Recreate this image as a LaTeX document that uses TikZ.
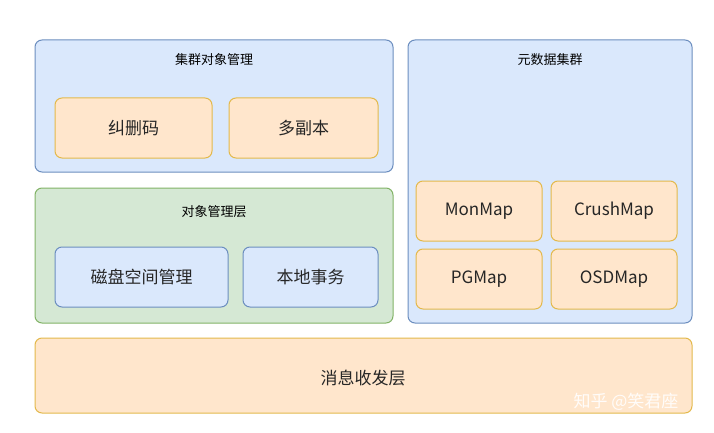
\documentclass[tikz,border=0pt]{standalone}
\usepackage{fontspec}
\setmainfont{Noto Sans CJK SC}
\definecolor{bfill}{HTML}{DAE8FC}\definecolor{bline}{HTML}{6C8EBF}
\definecolor{ofill}{HTML}{FFE6CC}\definecolor{oline}{HTML}{D79B00}
\definecolor{gfill}{HTML}{D5E8D4}\definecolor{gline}{HTML}{82B366}
\tikzset{
 base/.style={rounded corners=7pt,line width=1pt},
 bluebox/.style={base,fill=bfill,draw=bline},
 orbox/.style={base,fill=ofill,draw=oline!70},
 grbox/.style={base,fill=gfill,draw=gline},
 ttl/.style={font=\fontsize{13}{15}\selectfont},
 lbl/.style={font=\fontsize{17}{20}\selectfont,text=black!85},
}
\begin{document}
\begin{tikzpicture}[x=1pt,y=-1pt]
\useasboundingbox[fill=white] (0,0) rectangle (714,433);
\draw[bluebox] (35,40) rectangle (393,172);
\node[ttl] (t1) at (214,60) {集群对象管理};
\draw[orbox] (55,98) rectangle (212,158); \node[lbl] (a1) at (133.5,128) {纠删码};
\draw[orbox] (229,98) rectangle (378,158); \node[lbl] (a2) at (303.5,128) {多副本};
\draw[grbox] (35,188) rectangle (393,323);
\node[ttl] (t2) at (214,212) {对象管理层};
\draw[bluebox] (55,247) rectangle (228,307); \node[lbl] (b1) at (141.5,277) {磁盘空间管理};
\draw[bluebox] (243,247) rectangle (378,307); \node[lbl] (b2) at (310.5,277) {本地事务};
\draw[bluebox] (408,40) rectangle (692,323);
\node[ttl] (t3) at (550,60) {元数据集群};
\draw[orbox] (416,181) rectangle (542,241); \node[lbl] (m1) at (479,211) {MonMap};
\draw[orbox] (551,181) rectangle (677,241); \node[lbl] (m2) at (614,211) {CrushMap};
\draw[orbox] (416,249) rectangle (542,309); \node[lbl] (m3) at (479,279) {PGMap};
\draw[orbox] (551,249) rectangle (677,309); \node[lbl] (m4) at (614,279) {OSDMap};
\draw[orbox] (35,338) rectangle (692,413); \node[lbl] (c1) at (363,378) {消息收发层};
\node[font=\fontsize{17}{20}\selectfont,text=white,opacity=0.9] (wm) at (626,402) {知乎 @笑君座};
\end{tikzpicture}
\end{document}
